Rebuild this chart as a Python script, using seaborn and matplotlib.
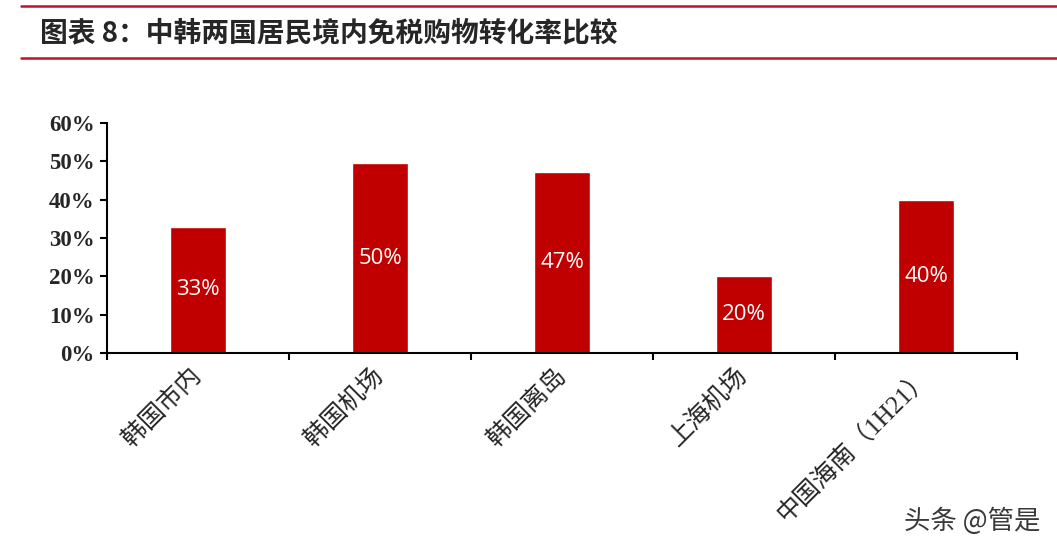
import matplotlib
matplotlib.use("Agg")
import matplotlib.pyplot as plt
from matplotlib.ticker import PercentFormatter, FixedLocator
from matplotlib.lines import Line2D
import pandas as pd
import seaborn as sns

# data
categories = ['韩国市内', '韩国机场', '韩国离岛', '上海机场', '中国海南（1H21）']
rates = [0.33, 0.495, 0.472, 0.20, 0.40]
bar_labels = ['33%', '50%', '47%', '20%', '40%']
title = '图表 8：中韩两国居民境内免税购物转化率比较'

df = pd.DataFrame({'cat': categories, 'rate': rates})

sns.set_style('ticks')
plt.rcParams['font.family'] = ['Liberation Serif', 'Noto Sans CJK SC', 'DejaVu Sans']

fig = plt.figure(figsize=(10.57, 5.53), dpi=100)
ax = fig.add_axes([107 / 1057, 1 - 353 / 553, (1017 - 107) / 1057, (353 - 123) / 553])

sns.barplot(data=df, x='cat', y='rate', color='#C00000', saturation=1, width=0.31, ax=ax)
ax.bar_label(ax.containers[0], labels=bar_labels, label_type='center', color='white',
             fontsize=16, family=['Open Sans', 'DejaVu Sans'])

ax.set_ylim(0, 0.6)
ax.set_xlim(-0.5, len(categories) - 0.5)
ax.set_yticks([0, 0.1, 0.2, 0.3, 0.4, 0.5, 0.6])
ax.yaxis.set_major_formatter(PercentFormatter(1.0, decimals=0))
ax.set_xlabel('')
ax.set_ylabel('')

for lab in ax.get_yticklabels():
    lab.set_fontsize(16.5)
    lab.set_fontweight('bold')
    lab.set_family(['Liberation Serif'])

ax.tick_params(axis='x', which='major', length=0, pad=14)
ax.xaxis.set_minor_locator(FixedLocator([i - 0.5 for i in range(len(categories) + 1)]))
ax.tick_params(axis='x', which='minor', length=5, width=1.5, direction='out', color='black')
ax.tick_params(axis='y', length=5, width=1.5, color='black', pad=4)
for lab in ax.get_xticklabels():
    lab.set_rotation(45)
    lab.set_ha('right')
    lab.set_va('center')
    lab.set_rotation_mode('anchor')
    lab.set_fontsize(18)
    lab.set_family(['Liberation Serif', 'Noto Sans CJK SC'])

sns.despine(ax=ax)
ax.spines['left'].set_linewidth(1.5)
ax.spines['bottom'].set_linewidth(1.5)
ax.spines['left'].set_color('black')
ax.spines['bottom'].set_color('black')

# title band with red rules
fig.add_artist(Line2D([21 / 1057, 1], [1 - 6 / 553, 1 - 6 / 553], color='#C0102A', lw=1.8))
fig.add_artist(Line2D([21 / 1057, 1], [1 - 58 / 553, 1 - 58 / 553], color='#C0102A', lw=1.8))
fig.text(40 / 1057, 1 - 33 / 553, title, fontsize=20, fontweight='bold', va='center', ha='left',
         family=['Noto Sans CJK SC', 'DejaVu Sans'])

# watermark
fig.text(1040 / 1057, 1 - 521 / 553, '头条 @管是', fontsize=19, color='#3a3a3a', va='center', ha='right',
         family=['Noto Sans CJK SC', 'DejaVu Sans'])

fig.savefig('out.png', dpi=100)
